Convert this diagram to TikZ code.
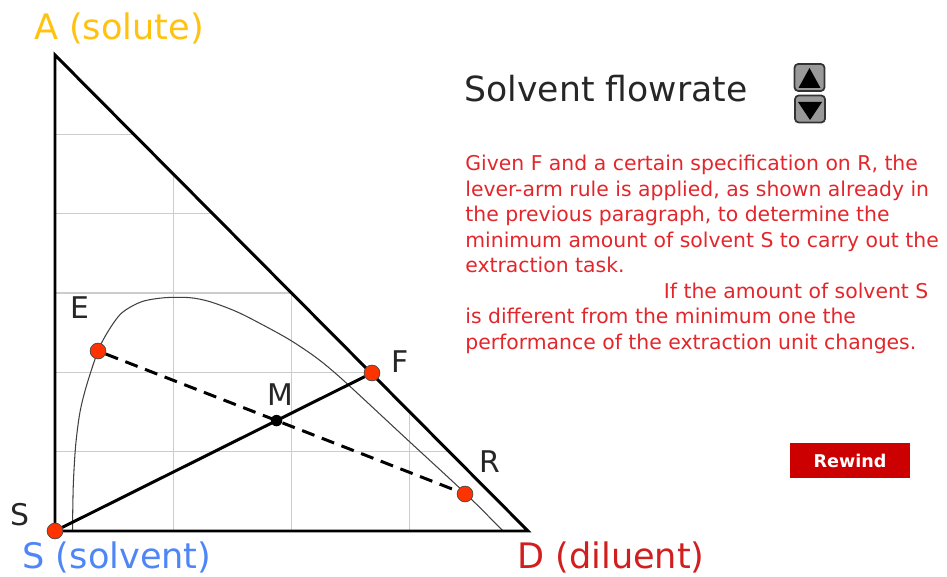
\documentclass[tikz,border=0pt]{standalone}
\usepackage{fontspec}
\setmainfont{DejaVu Sans}
\usetikzlibrary{calc}
\definecolor{solutegold}{HTML}{FFC20E}
\definecolor{solventblue}{HTML}{4F86F7}
\definecolor{diluentred}{HTML}{D11F1F}
\definecolor{textred}{HTML}{E3262B}
\definecolor{dotred}{HTML}{FF3300}
\definecolor{gridgray}{HTML}{CCCCCC}
\definecolor{btngray}{HTML}{999999}
\definecolor{rewindred}{HTML}{CC0000}

\begin{document}
\begin{tikzpicture}[x=0.02cm, y=-0.02cm,
    side/.style={line width=1.7pt, line join=miter},
    gridline/.style={draw=gridgray, line width=0.7pt},
    tie/.style={line width=1.7pt},
    tiedash/.style={line width=1.7pt, dash pattern=on 7.5pt off 4.5pt},
    pt/.style={circle, draw=black!70, line width=0.4pt, fill=dotred,
               minimum size=9pt, inner sep=0pt},
    mix/.style={circle, fill=black, minimum size=6.5pt, inner sep=0pt},
    ptlabel/.style={font=\fontsize{17}{17}\selectfont, text=black!85, inner sep=0pt},
    corner/.style={font=\fontsize{20}{20}\selectfont, inner sep=0pt},
    btn/.style={draw=black!80, fill=btngray, line width=1pt, rounded corners=2pt,
                minimum width=17pt, minimum height=15.3pt, inner sep=0pt},
    rewind/.style={fill=rewindred, text=white, font=\bfseries\fontsize{10}{10}\selectfont,
                   minimum width=68pt, minimum height=19.8pt, inner sep=0pt}
  ]
    \useasboundingbox (0,0) rectangle (947,577);

    % grid, kept inside the triangle
    \begin{scope}
      \clip (55,55) -- (528,531) -- (55,531) -- cycle;
      \foreach \k in {1,...,5}
        \draw[gridline] (55,531-\k*79.33) -- ++(480,0);
      \foreach \k in {1,2,3}
        \draw[gridline] (55+\k*118.25,531) -- ++(0,-480);
    \end{scope}

    % binodal curve
    \draw[black!75, line width=0.6pt] plot[smooth, tension=0.5] coordinates {
      (72.5,531) (73.3,485) (75.7,445) (80,412) (86.7,385) (98,351)
      (108,331.5) (121.7,313) (141.7,301.7) (165,297.7) (190,297.7)
      (210,301.7) (236.7,311.7) (263,325) (290,340) (316.7,358) (343,380)
      (405,437.5) (466,494) (503,531)};

    % triangle
    \draw[side] (55,55) -- (528,531) -- (55,531) -- cycle;

    \node[pt] (S) at (55,531) {};
    \node[pt] (E) at (98,351) {};
    \node[pt] (F) at (372,373) {};
    \node[pt] (R) at (465,494) {};

    \draw[tie] (S) -- (F);
    \draw[tiedash] (E) -- (R);
    \node[mix] (M) at (intersection of S--F and E--R) {};

    \node[ptlabel] (labE) at (80,308) {E};
    \node[ptlabel] (labF) at (400,362) {F};
    \node[ptlabel] (labM) at (280,395) {M};
    \node[ptlabel] (labR) at (490,462) {R};
    \node[ptlabel] (labS) at (20,515) {S};

    \node[corner, text=solutegold]  (solute)  at (119,28)  {A (solute)};
    \node[corner, text=solventblue] (solvent) at (117,557) {S (solvent)};
    \node[corner, text=diluentred]  (diluent) at (611,557) {D (diluent)};

    \node[font=\fontsize{19.7}{19.7}\selectfont, text=black!85, inner sep=0pt]
      (title) at (606,89) {Solvent flowrate};

    \node[btn] (up)   at (809.5,77.5) {};
    \node[btn] (down) at (810,109) {};
    \fill ($(up)+(0,-9.5)$) -- ($(up)+(11,10.5)$) -- ($(up)+(-11,10.5)$) -- cycle;
    \fill ($(down)+(0,11)$) -- ($(down)+(12,-7)$) -- ($(down)+(-12,-7)$) -- cycle;

    \node[anchor=north west, inner sep=0pt, align=left, text=textred,
          font=\fontsize{11.6}{14.5}\selectfont] (note) at (465,155)
      {Given F and a certain specification on R, the\\
       lever-arm rule is applied, as shown already in\\
       the previous paragraph, to determine the\\
       minimum amount of solvent S to carry out the\\
       extraction task.\\
       \hspace*{113pt}If the amount of solvent S\\
       is different from the minimum one the\\
       performance of the extraction unit changes.};

    \node[rewind] (rewind) at (850,460.5) {Rewind};
\end{tikzpicture}
\end{document}
